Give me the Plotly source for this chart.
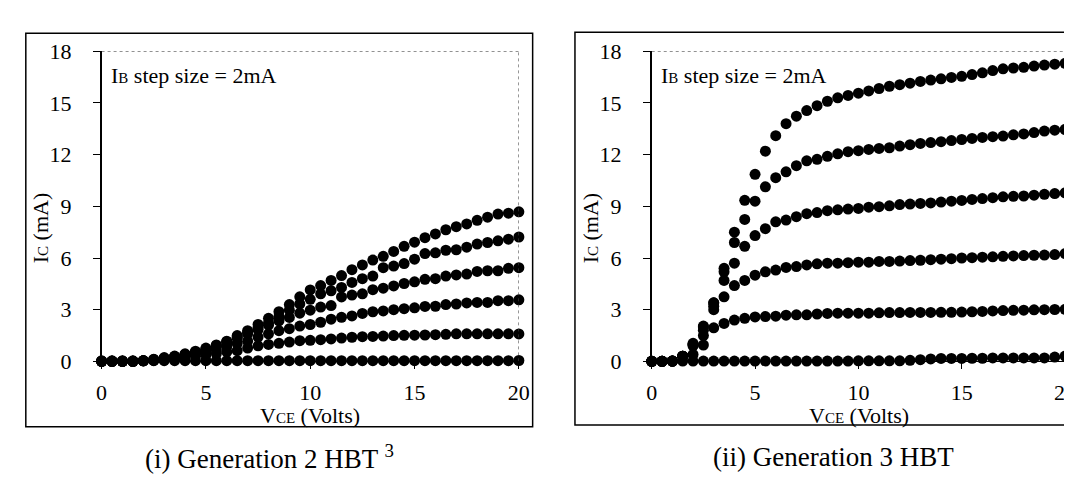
import plotly.graph_objects as go

W, H = 1072, 483

# ---------------- data ----------------
vce = [i * 0.5 for i in range(41)]
x_ticks = [0, 5, 10, 15, 20]
y_ticks = [0, 3, 6, 9, 12, 15, 18]

# Generation 2 HBT (left panel), Ic in mA, one list per IB step
gen2_ib0 = [0.03, 0.03, 0.03, 0.03, 0.04, 0.04, 0.04, 0.04, 0.04, 0.04,
            0.04, 0.04, 0.04, 0.04, 0.04, 0.04, 0.04, 0.04, 0.04, 0.04,
            0.04, 0.04, 0.04, 0.04, 0.04, 0.04, 0.04, 0.04, 0.04, 0.04,
            0.04, 0.04, 0.04, 0.04, 0.04, 0.04, 0.04, 0.04, 0.04, 0.04, 0.05]
gen2_ib2 = [0, 0, 0, 0, 0.03, 0.06, 0.1, 0.16, 0.22, 0.3,
            0.37, 0.45, 0.55, 0.62, 0.77, 0.9, 0.98, 1.05, 1.12, 1.2,
            1.22, 1.26, 1.3, 1.35, 1.4, 1.43, 1.45, 1.47, 1.5, 1.51,
            1.52, 1.53, 1.55, 1.57, 1.6, 1.6, 1.6, 1.6, 1.6, 1.6, 1.59]
gen2_ib4 = [0, 0, 0, 0, 0.03, 0.09, 0.16, 0.26, 0.35, 0.44,
            0.55, 0.68, 0.86, 1.04, 1.17, 1.41, 1.6, 1.78, 1.9, 2.05,
            2.14, 2.27, 2.45, 2.56, 2.64, 2.78, 2.88, 2.93, 3.0, 3.06,
            3.11, 3.19, 3.2, 3.3, 3.33, 3.39, 3.42, 3.42, 3.52, 3.52, 3.57]
gen2_ib6 = [0, 0, 0, 0, 0.03, 0.09, 0.17, 0.26, 0.38, 0.52,
            0.68, 0.88, 1.1, 1.35, 1.6, 1.85, 2.1, 2.35, 2.55, 2.8,
            2.97, 3.15, 3.24, 3.74, 3.85, 3.92, 4.16, 4.25, 4.38, 4.52,
            4.62, 4.76, 4.8, 4.95, 5.02, 5.07, 5.22, 5.26, 5.26, 5.4, 5.44]
gen2_ib8 = [0, 0, 0, 0, 0.03, 0.09, 0.18, 0.27, 0.4, 0.55,
            0.71, 0.92, 1.14, 1.41, 1.68, 1.96, 2.23, 2.6, 2.97, 3.33,
            3.6, 3.92, 4.1, 4.29, 4.58, 4.8, 4.95, 5.44, 5.53, 5.68,
            5.93, 6.26, 6.3, 6.45, 6.48, 6.63, 6.81, 6.9, 7.0, 7.09, 7.22]
gen2_ib10 = [0, 0, 0, 0, 0.04, 0.13, 0.22, 0.31, 0.44, 0.59,
             0.77, 0.95, 1.17, 1.5, 1.78, 2.14, 2.5, 2.88, 3.3, 3.75,
             4.15, 4.4, 4.7, 4.98, 5.32, 5.6, 5.88, 6.1, 6.38, 6.68,
             6.92, 7.18, 7.4, 7.64, 7.82, 7.98, 8.19, 8.37, 8.55, 8.6, 8.68]

# Generation 3 HBT (right panel)
gen3_ib0 = [0, 0.01, 0.01, 0.02, 0.02, 0.02, 0.02, 0.02, 0.02, 0.02,
            0.02, 0.02, 0.02, 0.02, 0.02, 0.02, 0.02, 0.02, 0.02, 0.02,
            0.03, 0.03, 0.03, 0.03, 0.03, 0.06, 0.1, 0.14, 0.17, 0.17,
            0.17, 0.18, 0.18, 0.2, 0.2, 0.2, 0.2, 0.2, 0.2, 0.25, 0.3]
gen3_ib2 = [0, 0, 0.02, 0.3, 0.4, 0.95, 1.95, 2.2, 2.4, 2.5,
            2.58, 2.6, 2.62, 2.68, 2.7, 2.7, 2.75, 2.78, 2.8, 2.8,
            2.8, 2.8, 2.82, 2.83, 2.83, 2.84, 2.84, 2.84, 2.85, 2.85,
            2.86, 2.88, 2.9, 2.93, 2.95, 2.96, 2.97, 2.99, 3.0, 3.01, 3.02]
gen3_ib4 = [0, 0, 0.02, 0.3, 0.9, 1.5, 3.0, 3.75, 4.4, 4.7,
            5.0, 5.2, 5.3, 5.45, 5.5, 5.6, 5.66, 5.7, 5.7, 5.73,
            5.76, 5.76, 5.8, 5.8, 5.82, 5.85, 5.87, 5.9, 5.93, 5.96,
            6.0, 6.02, 6.05, 6.07, 6.1, 6.12, 6.14, 6.16, 6.17, 6.2, 6.26]
gen3_ib6 = [0, 0, 0.02, 0.3, 0.95, 1.8, 3.2, 4.7, 5.7, 6.68,
            7.3, 7.7, 8.1, 8.2, 8.4, 8.57, 8.64, 8.75, 8.8, 8.84,
            8.88, 8.95, 8.98, 9.03, 9.1, 9.13, 9.17, 9.2, 9.25, 9.3,
            9.34, 9.4, 9.45, 9.5, 9.55, 9.58, 9.6, 9.65, 9.7, 9.74, 9.78]
gen3_ib8 = [0, 0, 0.02, 0.3, 1.0, 2.0, 3.4, 5.2, 6.9, 8.24,
            9.3, 10.13, 10.66, 11.0, 11.36, 11.64, 11.73, 11.9, 12.05, 12.17,
            12.23, 12.3, 12.36, 12.4, 12.5, 12.58, 12.65, 12.7, 12.75, 12.82,
            12.88, 12.94, 13.0, 13.04, 13.08, 13.15, 13.2, 13.28, 13.37, 13.42, 13.46]
gen3_ib10 = [0, 0, 0.02, 0.3, 1.05, 2.05, 3.4, 5.4, 7.5, 9.35,
             10.86, 12.2, 13.1, 13.8, 14.23, 14.56, 14.84, 15.1, 15.3, 15.44,
             15.57, 15.7, 15.84, 15.97, 16.06, 16.15, 16.25, 16.33, 16.4, 16.48,
             16.55, 16.65, 16.75, 16.88, 16.98, 17.03, 17.07, 17.14, 17.2, 17.25, 17.3]

gen2_curves = [gen2_ib0, gen2_ib2, gen2_ib4, gen2_ib6, gen2_ib8, gen2_ib10]
gen3_curves = [gen3_ib0, gen3_ib2, gen3_ib4, gen3_ib6, gen3_ib8, gen3_ib10]

SUB = "<span style='font-size:15px'>{}</span>"
x_title = "V" + SUB.format("CE") + " (Volts)"
y_title = "I" + SUB.format("C") + " (mA)"
step_note = "I" + SUB.format("B") + " step size = 2mA"
caption_left = "(i) Generation 2 HBT <sup>3</sup>"
caption_right = "(ii) Generation 3 HBT"

# ---------------- figure ----------------
FONT = "Liberation Serif"


def px_x(p):
    return p / W


def px_y(p):
    return 1 - p / H


fig = go.Figure()

for curve in gen2_curves:
    fig.add_trace(go.Scatter(x=vce, y=curve, mode="markers", xaxis="x", yaxis="y",
                             marker=dict(size=11, color="black"), cliponaxis=False,
                             showlegend=False, hoverinfo="skip"))
for curve in gen3_curves:
    fig.add_trace(go.Scatter(x=vce, y=curve, mode="markers", xaxis="x2", yaxis="y2",
                             marker=dict(size=11, color="black"), cliponaxis=False,
                             showlegend=False, hoverinfo="skip"))

y_dom = [px_y(360), px_y(33)]
axis_common = dict(showgrid=False, zeroline=False, showline=True, linecolor="black",
                   ticks="outside", tickcolor="black", ticklen=7,
                   tickfont=dict(family=FONT, size=22, color="black"))

fig.update_layout(
    width=W, height=H,
    margin=dict(l=0, r=0, t=0, b=0),
    paper_bgcolor="white", plot_bgcolor="white",
    font=dict(family=FONT, color="black", size=21),
    xaxis=dict(domain=[px_x(89), px_x(513)], range=[0, 20], tickvals=x_ticks,
               anchor="y", linewidth=1, ticklabelstandoff=4, **axis_common),
    yaxis=dict(domain=y_dom, range=[0, 18], tickvals=y_ticks, anchor="x",
               linewidth=1.5, ticklabelstandoff=17, **axis_common),
    xaxis2=dict(domain=[px_x(648), px_x(1068)], range=[0, 20], tickvals=x_ticks,
                anchor="y2", linewidth=1, ticklabelstandoff=4, **axis_common),
    yaxis2=dict(domain=y_dom, range=[0, 18], tickvals=y_ticks, anchor="x2",
                linewidth=1.5, ticklabelstandoff=17, **axis_common),
)

shapes = []
# outer frames
shapes.append(dict(type="rect", xref="paper", yref="paper",
                   x0=px_x(12), x1=px_x(527), y0=px_y(429), y1=px_y(14),
                   line=dict(color="black", width=1.5)))
shapes.append(dict(type="rect", xref="paper", yref="paper",
                   x0=px_x(570), x1=px_x(1090), y0=px_y(427), y1=px_y(13),
                   line=dict(color="black", width=1.5)))
# dotted top / right borders of plot areas
for xr, yr in (("x", "y"), ("x2", "y2")):
    shapes.append(dict(type="line", xref=xr, yref=yr, x0=0, x1=20, y0=18, y1=18,
                       line=dict(color="#444", width=1, dash="dot")))
    shapes.append(dict(type="line", xref=xr, yref=yr, x0=20, x1=20, y0=0, y1=18,
                       line=dict(color="#444", width=1, dash="dot")))
fig.update_layout(shapes=shapes)

ann = []
for cx_title, cx_ytitle, x_note in ((301, 27, 97), (859, 586, 655)):
    ann.append(dict(text=x_title, x=px_x(cx_title), y=px_y(417), xref="paper", yref="paper",
                    showarrow=False, xanchor="center", yanchor="middle",
                    font=dict(family=FONT, size=22, color="black")))
    ann.append(dict(text=y_title, x=px_x(cx_ytitle), y=px_y(219), xref="paper", yref="paper",
                    showarrow=False, xanchor="center", yanchor="middle", textangle=-90,
                    font=dict(family=FONT, size=22, color="black")))
    ann.append(dict(text=step_note, x=px_x(x_note), y=px_y(59), xref="paper", yref="paper",
                    showarrow=False, xanchor="left", yanchor="middle",
                    font=dict(family=FONT, size=22, color="black")))
ann.append(dict(text=caption_left, x=px_x(260), y=px_y(461), xref="paper", yref="paper",
                showarrow=False, xanchor="center", yanchor="middle",
                font=dict(family=FONT, size=27, color="black")))
ann.append(dict(text=caption_right, x=px_x(833), y=px_y(461), xref="paper", yref="paper",
                showarrow=False, xanchor="center", yanchor="middle",
                font=dict(family=FONT, size=27, color="black")))
fig.update_layout(annotations=ann)

fig.write_html("out.html")
